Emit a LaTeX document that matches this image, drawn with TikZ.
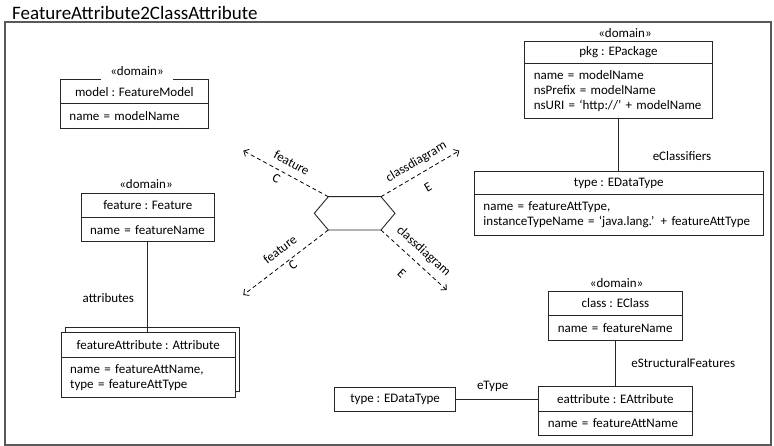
\documentclass[tikz,border=0pt]{standalone}
\usepackage{fontspec}
\setmainfont{Carlito}
\usetikzlibrary{arrows.meta}
\tikzset{
  every node/.style={font=\fontsize{13}{15}\selectfont},
  objhead/.style={draw=black!85, line width=0.9pt, anchor=north west, inner sep=0pt, align=center},
  objbody/.style={draw=black!85, line width=0.9pt, anchor=north west, inner xsep=9pt, inner ysep=0pt, align=left},
  stereo/.style={fill=white, anchor=base, inner xsep=9pt, inner ysep=4pt},
  link/.style={draw=black!85, line width=0.9pt},
  trafo/.style={line width=0.8pt, dash pattern=on 4pt off 3pt, -{Straight Barb[length=4pt,width=8pt]}},
  lbl/.style={inner sep=0pt},
  edgelbl/.style={inner sep=0pt, sloped},
}
\begin{document}
\begin{tikzpicture}[x=1pt, y=-1pt]
\useasboundingbox (0,0) rectangle (774,446);

% frame and title
\draw[draw=black!65, line width=1.2pt] (5,22) rectangle (771,445);
\node[lbl, anchor=base west, font=\fontsize{19}{22}\selectfont] (title) at (12,20) {FeatureAttribute2ClassAttribute};

% model : FeatureModel
\node[objhead, minimum width=147.7pt, minimum height=24pt] (mh) at (60,79.3) {model : FeatureModel};
\node[objbody, text width=129.7pt, minimum height=24.4pt] (mb) at (60,103.3) {name = modelName};
\node[stereo] (ms) at (137,75.8) {«domain»};

% feature : Feature
\node[objhead, minimum width=133.3pt, minimum height=24.6pt] (fh) at (80.7,192.7) {feature : Feature};
\node[objbody, text width=115.3pt, minimum height=23.7pt] (fb) at (80.7,217.3) {name = featureName};
\node[stereo] (fs) at (146,189) {«domain»};

% featureAttribute : Attribute (multi-object)
\node[draw=black!85, line width=0.9pt, anchor=north west, minimum width=174.3pt, minimum height=64.3pt, inner sep=0pt] (aback) at (65,326.7) {};
\node[objhead, fill=white, minimum width=174.3pt, minimum height=24.5pt] (ah) at (60.7,332.5) {featureAttribute : Attribute};
\node[objbody, fill=white, text width=156.3pt, minimum height=39.7pt] (ab) at (60.7,357) {name = featureAttName,\\type = featureAttType};

% pkg : EPackage
\node[objhead, minimum width=187.4pt, minimum height=22pt] (ph) at (524.3,40.7) {pkg : EPackage};
\node[objbody, text width=169.4pt, minimum height=55.6pt] (pb) at (524.3,62.7) {name = modelName\\nsPrefix = modelName\\nsURI = ‘http://’ + modelName};
\node[stereo] (ps) at (625,37.1) {«domain»};

% type : EDataType (classifier of the package)
\node[objhead, minimum width=288.7pt, minimum height=23.6pt] (dh) at (474,170.7) {type : EDataType};
\node[objbody, text width=270.7pt, minimum height=40.7pt] (db) at (474,194.3) {name = featureAttType,\\instanceTypeName = ‘java.lang.’ + featureAttType};

% class : EClass
\node[objhead, minimum width=133.4pt, minimum height=24pt] (ch) at (548.3,291) {class : EClass};
\node[objbody, text width=115.4pt, minimum height=25pt] (cb) at (548.3,315) {name = featureName};
\node[stereo] (cs) at (616.7,287.4) {«domain»};

% eattribute : EAttribute
\node[objhead, minimum width=153.4pt, minimum height=24.7pt] (eh) at (538.3,386) {eattribute : EAttribute};
\node[objbody, text width=135.4pt, minimum height=24.3pt] (eb) at (538.3,410.7) {name = featureAttName};

% type : EDataType (referenced by eType)
\node[objhead, minimum width=120.7pt, minimum height=24.3pt] (th) at (334.3,386.7) {type : EDataType};

% links between objects
\draw[link] (fb.south) -- (fb.south |- ah.north);
\draw[link] (pb.south) -- (pb.south |- dh.north);
\draw[link] (cb.south) -- (cb.south |- eh.north);
\draw[link] (th.east) -- (th.east -| eh.west);

\node[lbl] (lattr) at (108.3,297.7) {attributes};
\node[lbl] (lcls) at (682,156) {eClassifiers};
\node[lbl] (lsf) at (683.3,362.7) {eStructuralFeatures};
\node[lbl] (ltype) at (492.7,386.2) {eType};

% transformation rule (hexagon) and its domains
\coordinate (h1) at (328.3,196.7);
\coordinate (h2) at (381,196.7);
\coordinate (h3) at (395,213.3);
\coordinate (h4) at (381,230);
\coordinate (h5) at (328.3,230);
\coordinate (h6) at (314.3,213.3);
\draw[link] (h1) -- (h2) -- (h3) -- (h4) -- (h5) -- (h6) -- cycle;

\coordinate (ul) at (243.3,150.7);
\coordinate (ur) at (459.3,150.7);
\coordinate (ll) at (243.3,295);
\coordinate (lr) at (446.7,290);

\draw[trafo] (h1) -- node[edgelbl, pos=0.5, above=7.5pt] {feature} node[edgelbl, pos=0.56, below=4.3pt] {C} (ul);
\draw[trafo] (h2) -- node[edgelbl, pos=0.53, above=6pt] {classdiagram} node[edgelbl, pos=0.5, below=11pt] {E} (ur);
\draw[trafo] (h5) -- node[edgelbl, pos=0.47, above=9pt] {feature} node[edgelbl, pos=0.46, below=1.5pt] {C} (ll);
\draw[trafo] (h4) -- node[edgelbl, pos=0.515, above=6.7pt] {classdiagram} node[edgelbl, pos=0.5, below=13.5pt] {E} (lr);
\end{tikzpicture}
\end{document}
